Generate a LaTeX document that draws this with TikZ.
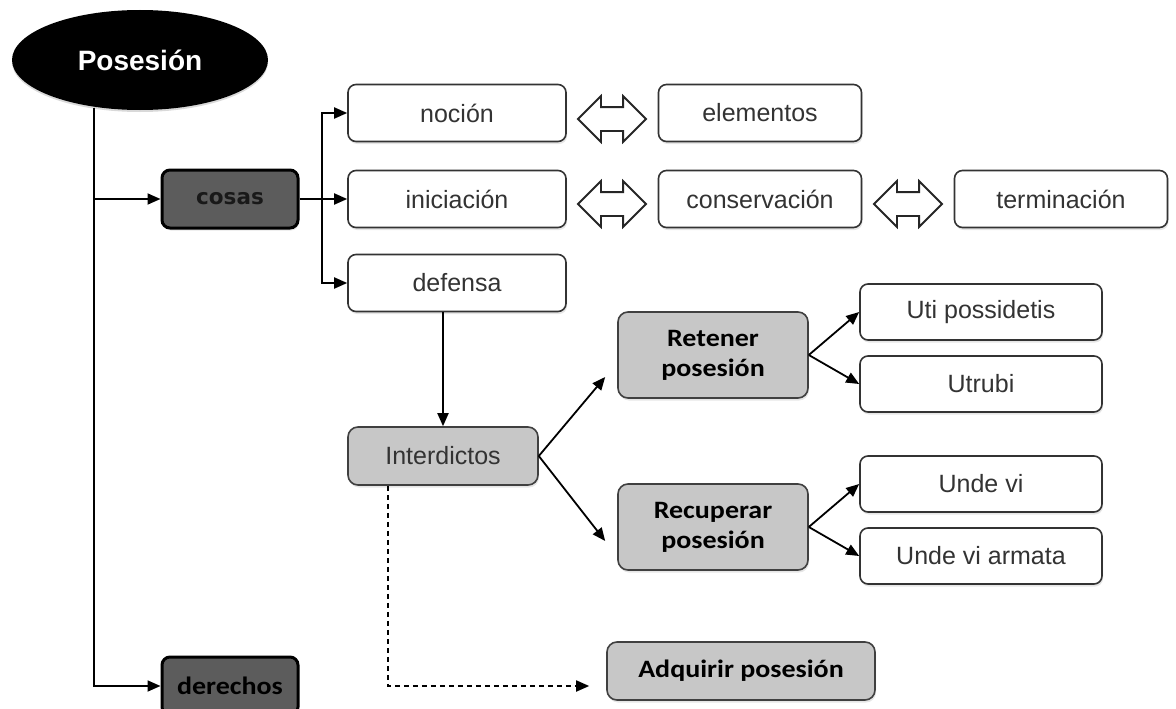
\documentclass[tikz,border=0pt]{standalone}
\usepackage{fontspec}
\setmainfont{Liberation Sans}
\newfontfamily\calfont[FakeStretch=1.12]{Carlito}
\newfontfamily\verfont{DejaVu Sans}
\usetikzlibrary{shapes.geometric,shapes.arrows,arrows.meta,calc,shadows}

\begin{document}
\begin{tikzpicture}[x=1pt,y=-1pt,
    line width=1.8pt,
    tip/.style={-{Triangle[length=13pt,width=11pt]}},
    soft/.style={drop shadow={shadow xshift=1pt,shadow yshift=-2.5pt,opacity=0.2}},
    wbox/.style={draw=black!80,line width=1.6pt,rounded corners=8pt,fill=white,soft,
        minimum height=57pt,text=black!80,font=\fontsize{25}{28}\selectfont},
    gbox/.style={draw=black!75,line width=1.6pt,rounded corners=10pt,fill=black!22,soft,
        minimum height=58pt,text=black,font=\calfont\bfseries\fontsize{25}{30}\selectfont,align=center},
    dbox/.style={draw=black,line width=3pt,rounded corners=8pt,fill=black!64,soft,
        minimum width=136pt,minimum height=58pt,text=black},
    swap/.style={double arrow,draw=black!85,line width=1.8pt,fill=white,inner sep=0pt,
        inner ysep=11pt,double arrow head extend=11pt,minimum height=68pt}]
  \useasboundingbox (0,0) rectangle (1176,709);
  % main topic
  \node[ellipse,fill=black,minimum width=256pt,minimum height=100pt,
        drop shadow={shadow xshift=0pt,shadow yshift=-2pt,opacity=0.3},
        text=white,font=\bfseries\fontsize{28}{30}\selectfont] (pos) at (140,60) {Posesión};
  \node[dbox,font=\verfont\bfseries\fontsize{21.5}{24}\selectfont,text=black!90] (cosas) at (230,199) {cosas};
  \node[dbox,font=\calfont\bfseries\fontsize{25}{28}\selectfont] (der) at (230,686) {derechos};
  % first level
  \node[wbox,minimum width=218pt] (nocion) at (457,113) {noción};
  \node[wbox,minimum width=218pt] (inic) at (457,199) {iniciación};
  \node[wbox,minimum width=218pt] (def) at (457,283) {defensa};
  \node[wbox,minimum width=203pt] (elem) at (760,113) {elementos};
  \node[wbox,minimum width=203pt] (cons) at (760,199) {conservación};
  \node[wbox,minimum width=213pt] (term) at (1061,199) {terminación};
  \node[swap] (sw1) at (612,119) {};
  \node[swap] (sw2) at (612,204) {};
  \node[swap] (sw3) at (908,204) {};
  % interdictos
  \node[gbox,minimum width=190pt,text=black!80,font=\fontsize{25}{28}\selectfont] (inter) at (443,456) {Interdictos};
  \node[gbox,minimum width=190pt,minimum height=86pt] (ret) at (713,355) {Retener\\posesión};
  \node[gbox,minimum width=190pt,minimum height=86pt] (rec) at (713,527) {Recuperar\\posesión};
  \node[gbox,minimum width=268pt] (adq) at (741,671) {Adquirir posesión};
  \node[wbox,minimum width=242pt,minimum height=56pt] (uti) at (981,312) {Uti possidetis};
  \node[wbox,minimum width=242pt,minimum height=56pt] (utr) at (981,384) {Utrubi};
  \node[wbox,minimum width=242pt,minimum height=56pt] (uv) at (981,484) {Unde vi};
  \node[wbox,minimum width=242pt,minimum height=56pt] (uva) at (981,556) {Unde vi armata};
  % connectors
  \draw[tip] (pos.-134) |- (cosas.west);
  \draw[tip] (pos.-134) |- (der.west);
  \coordinate (fork) at (322,199);
  \draw (cosas.east) -- (fork);
  \draw[tip] (fork) |- (nocion.west);
  \draw[tip] (fork) -- (inic.west);
  \draw[tip] (fork) |- (def.west);
  \draw[tip] (def.south -| inter.north) -- (inter.north);
  \draw[tip] (inter.east) -- ($(ret.west)+(-12,22)$);
  \draw[tip] (inter.east) -- ($(rec.west)+(-12,14)$);
  \draw[tip] (ret.east) -- (uti.west);
  \draw[tip] (ret.east) -- (utr.west);
  \draw[tip] (rec.east) -- (uv.west);
  \draw[tip] (rec.east) -- (uva.west);
  \draw[tip,dashed,dash pattern=on 5pt off 4pt] ([xshift=-55pt]inter.south) |- ($(adq.west)+(-17,15)$);
\end{tikzpicture}
\end{document}
